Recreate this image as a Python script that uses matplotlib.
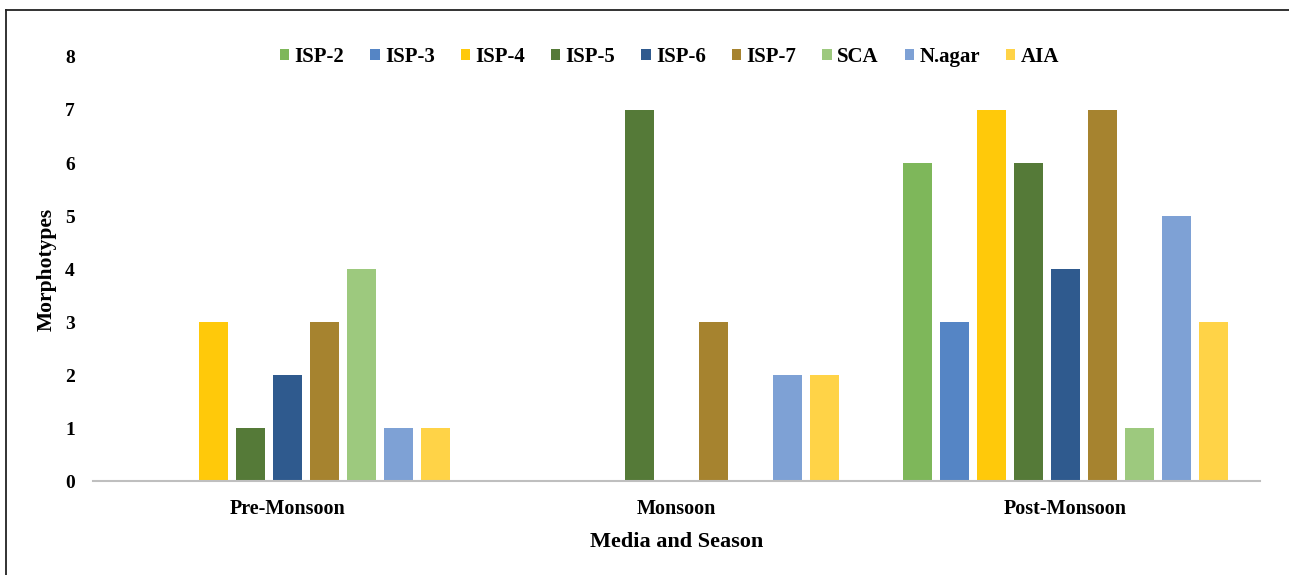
import numpy as np
import matplotlib.pyplot as plt
from matplotlib.lines import Line2D

plt.rcParams['font.family'] = ['Liberation Serif', 'DejaVu Serif']
plt.rcParams['font.weight'] = 'bold'

seasons = ['Pre-Monsoon', 'Monsoon', 'Post-Monsoon']
media = ['ISP-2', 'ISP-3', 'ISP-4', 'ISP-5', 'ISP-6', 'ISP-7', 'SCA', 'N.agar', 'AIA']
isp2 = [0, 0, 6]
isp3 = [0, 0, 3]
isp4 = [3, 0, 7]
isp5 = [1, 7, 6]
isp6 = [2, 0, 4]
isp7 = [3, 3, 7]
sca = [4, 0, 1]
nagar = [1, 2, 5]
aia = [1, 2, 3]
series = [isp2, isp3, isp4, isp5, isp6, isp7, sca, nagar, aia]
colors = ['#7EB75A', '#5585C5', '#FFC90A', '#557A38', '#2F5A8E',
          '#A6832F', '#9DC97E', '#7EA1D5', '#FFD347']

fig = plt.figure(figsize=(12.89, 5.75), dpi=100)
ax = fig.add_axes([0.072, 0.163, 0.9055, 0.738])

x = np.arange(len(seasons))
pitch = 0.095
width = 0.075
for i, (name, vals) in enumerate(zip(media, series)):
    ax.bar(x + (i - 4) * pitch, vals, width, color=colors[i], label=name)

ax.set_xlim(-0.5, 2.5)
ax.set_ylim(0, 8)
ax.set_yticks(range(9))
ax.set_xticks(x)
ax.set_xticklabels(seasons, fontsize=14.5, fontweight='bold')
for t in ax.get_yticklabels():
    t.set_fontsize(14)
    t.set_fontweight('bold')
ax.tick_params(axis='both', length=0)
ax.tick_params(axis='y', pad=13)
ax.tick_params(axis='x', pad=13)
for s in ['top', 'right', 'left']:
    ax.spines[s].set_visible(False)
ax.spines['bottom'].set_color('#BFBFBF')
ax.spines['bottom'].set_linewidth(1.5)

ax.set_xlabel('Media and Season', fontsize=16, fontweight='bold', labelpad=9)
ax.set_ylabel('Morphotypes', fontsize=15.5, fontweight='bold', labelpad=6)

ax.legend(loc='center', bbox_to_anchor=(0.494, 1.0), ncol=9, frameon=False,
          fontsize=15, handlelength=0.45, handleheight=0.45,
          handletextpad=0.25, columnspacing=1.25)

# frame lines (top and left only, as in the reference)
fig.add_artist(Line2D([6/1289, 1], [1 - 10/575, 1 - 10/575], color='#222222', lw=1.3))
fig.add_artist(Line2D([6/1289, 6/1289], [0, 1 - 10/575], color='#222222', lw=1.3))

fig.savefig('out.png', dpi=100)
